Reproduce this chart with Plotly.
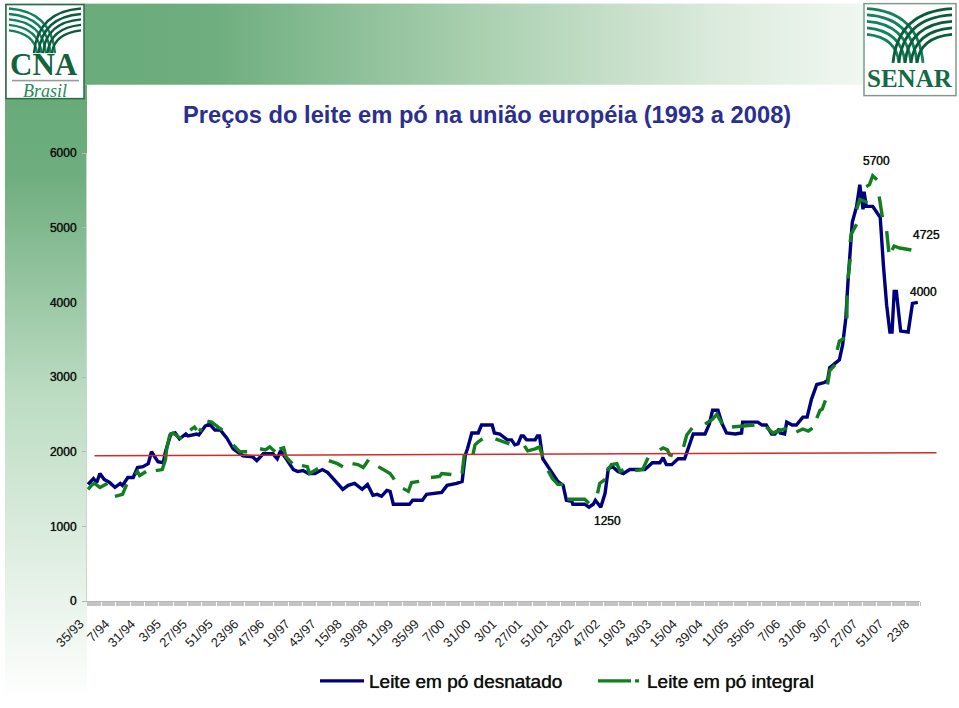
import base64
import plotly.graph_objects as go

W, H = 959, 708
ML, MR, MT, MB = 87, 22, 153, 102
PW, PH = W - ML - MR, H - MT - MB

tick_labels = ["35/93","7/94","31/94","3/95","27/95","51/95","23/96","47/96","19/97","43/97","15/98",
               "39/98","11/99","35/99","7/00","31/00","3/01","27/01","51/01","23/02","47/02","19/03",
               "43/03","15/04","39/04","11/05","35/05","7/06","31/06","3/07","27/07","51/07","23/8"]
tick_weeks = [i * 24 for i in range(len(tick_labels))]

blue_weeks = [1,6,9,12,16,21,26,31,33,38,43,47,52,57,60,66,71,73,78,82,86,89,92,94,102,104,110,114,119,124,
              130,136,145,154,158,164,173,177,180,186,192,196,201,206,212,219,224,233,238,243,249,256,261,266,
              270,274,279,282,285,300,303,312,316,330,335,344,349,352,354,358,364,367,377,379,384,391,395,398,
              401,404,406,409,417,419,421,424,431,438,443,446,451,452,463,467,471,473,478,482,485,489,494,499,
              505,519,526,533,536,539,544,550,556,561,564,575,579,582,587,591,595,603,609,610,624,628,632,637,
              640,644,645,649,651,656,660,666,670,674,679,686,689,691,696,700,703,706,708,711,712,716,719,722,
              723,725,731,736,738,741,744,747,749,751,753,757,764,768,773]
blue_values = [1563,1642,1589,1708,1629,1589,1523,1576,1550,1656,1656,1788,1801,1841,2000,1868,1854,2000,2238,2252,
               2172,2199,2238,2212,2238,2225,2344,2371,2291,2291,2185,2040,1947,1934,1881,1973,1973,1907,2013,1894,
               1762,1735,1748,1709,1709,1762,1722,1576,1497,1550,1576,1497,1563,1417,1430,1404,1483,1470,1298,1298,
               1351,1351,1430,1457,1550,1576,1603,1960,2040,2252,2252,2358,2358,2252,2238,2159,2159,2093,2106,2212,
               2212,2159,2159,2212,2212,1907,1762,1603,1550,1351,1338,1298,1298,1258,1298,1351,1258,1444,1775,1801,
               1735,1709,1762,1762,1854,1854,1920,1828,1828,1907,1907,2132,2238,2238,2371,2556,2556,2371,2252,2238,
               2252,2397,2397,2358,2358,2238,2238,2305,2252,2238,2397,2358,2358,2464,2464,2702,2901,2927,2954,3126,
               3192,3232,3430,3788,4278,4848,5073,5285,5576,5245,5483,5285,5285,5179,5139,4490,3960,3603,3603,4146,
               4146,3616,3603,3987,4000]

green_weeks = [1,5,7,12,19,None,26,31,33,37,None,45,47,49,55,None,64,70,73,74,77,80,85,88,None,96,100,102,None,104,107,None,
               112,116,122,126,None,136,140,142,149,None,161,166,170,175,None,179,183,185,191,None,200,205,207,215,None,
               225,233,238,None,247,252,257,262,None,271,277,282,286,None,294,299,302,309,None,320,328,330,339,None,349,351,None,
               359,361,364,368,None,380,386,393,None,407,410,417,421,424,None,429,433,438,443,None,447,463,467,None,475,477,482,None,
               484,488,493,496,499,None,510,517,522,None,533,536,540,542,545,None,555,558,563,None,575,582,586,591,None,600,621,None,
               632,638,651,None,660,666,671,675,None,679,682,684,687,None,689,691,696,None,698,700,705,None,707,707,None,708,710,None,
               710,711,716,None,716,719,724,726,None,725,728,731,735,None,737,740,None,744,746,None,749,751,756,767]
green_values = [1497,1563,1576,1523,1576,None,1404,1430,1430,1563,None,1695,1735,1682,1735,None,1748,1762,1894,2026,2225,2252,2199,2172,None,
                2291,2331,2291,None,2305,2278,None,2411,2397,2331,2291,None,2093,2040,2000,2000,None,2040,2026,2066,2000,None,
                2040,2053,1934,1841,None,1815,1801,1709,1775,None,1881,1841,1801,None,1841,1828,1788,1894,None,1801,1748,1709,1629,None,
                1510,1470,1589,1603,None,1656,1669,1709,1695,None,1709,1960,None,1960,2093,2132,2172,None,2172,2146,2106,None,
                2079,2013,2040,2066,1934,None,1748,1642,1563,1563,None,1364,1364,1311,None,1444,1576,1629,None,1748,1828,1841,1735,1762,None,
                1748,1762,1920,None,2026,2053,2026,1960,1947,None,2066,2225,2318,None,2371,2437,2503,2371,None,2331,2358,None,
                2331,2252,2318,None,2265,2305,2278,2318,None,2450,2556,2570,2689,None,2901,3086,3165,None,3364,3483,3523,None,3788,4093,None,4318,4583,None,
                4808,4914,5046,None,5245,5377,5351,5338,None,5550,5576,5695,5642,None,5417,5139,None,4954,4675,None,4702,4755,4728,4702]

trend_weeks = [7, 790]
trend_values = [1947, 1987]

FONT = "Liberation Sans, Arial, sans-serif"
SOFT = "0 0 0.7px #111111"


def px(x):
    return (x - ML) / PW


def py(y):
    return 1 - (y - MT) / PH


def fan(x0, y0, dy, ex0, dex, ye, n, color, width):
    out = []
    for i in range(n):
        ys = y0 + i * dy
        ex = ex0 + i * dex
        cx = ex + (x0 - ex) * 0.08
        out.append(f'<path d="M{x0} {ys} Q{cx:.1f} {ys+3} {ex} {ye}" fill="none" stroke="{color}" stroke-width="{width}"/>')
    return "".join(out)


svg = f'''<svg xmlns="http://www.w3.org/2000/svg" width="{W}" height="{H}" viewBox="0 0 {W} {H}">
<defs>
<linearGradient id="t" x1="0" x2="1" y1="0" y2="0">
<stop offset="0" stop-color="#66aa77"/><stop offset="0.22" stop-color="#6fae7f"/>
<stop offset="0.5" stop-color="#aad0b0"/><stop offset="0.75" stop-color="#dcebdd"/><stop offset="1" stop-color="#ffffff"/>
</linearGradient>
<linearGradient id="l" x1="0" x2="0" y1="0" y2="1">
<stop offset="0" stop-color="#66aa77"/><stop offset="0.15" stop-color="#6fae7f"/>
<stop offset="0.5" stop-color="#bcdcc2"/><stop offset="1" stop-color="#ffffff"/>
</linearGradient>
</defs>
<rect x="5" y="2" width="954" height="82" fill="url(#t)"/>
<rect x="5" y="84" width="82" height="624" fill="url(#l)"/>
<rect x="6" y="3" width="78" height="95" fill="#ffffff" stroke="#2a6a48" stroke-width="1.5"/>
{fan(9, 7, 5.5, 55, -4.5, 52, 5, "#12825c", 2.4)}
{fan(81, 7, 5.5, 34, 4.5, 52, 5, "#0b5c3c", 2.4)}
<rect x="12" y="79" width="67" height="1.6" fill="#9a9a9a"/>
<rect x="864" y="2" width="92" height="93" fill="#ffffff" stroke="#7f9a8a" stroke-width="1.5"/>
{fan(867, 7, 6.5, 923, -6, 62, 5, "#12825c", 2.8)}
{fan(952, 7, 6.5, 893, 6, 62, 5, "#0b5c3c", 2.8)}
</svg>'''
src = "data:image/svg+xml;base64," + base64.b64encode(svg.encode()).decode()

fig = go.Figure()
fig.add_trace(go.Scatter(x=trend_weeks, y=trend_values, mode="lines", showlegend=False, xaxis="x2", yaxis="y",
                         line=dict(color="#d42a2a", width=1.5), hoverinfo="skip"))
fig.add_trace(go.Scatter(x=blue_weeks, y=blue_values, mode="lines", name="Leite em pó desnatado", cliponaxis=False,
                         line=dict(color="#00007f", width=3.4)))
fig.add_trace(go.Scatter(x=green_weeks, y=green_values, mode="lines", showlegend=False, cliponaxis=False,
                         connectgaps=False, line=dict(color="#127f1e", width=3.4)))
fig.add_trace(go.Scatter(x=[None], y=[None], mode="lines", name="Leite em pó integral",
                         line=dict(color="#127f1e", width=3.4, dash="33px,4px,4px")))

fig.update_layout(
    width=W, height=H, margin=dict(l=ML, r=MR, t=MT, b=MB), paper_bgcolor="white", plot_bgcolor="rgba(0,0,0,0)",
    font=dict(family=FONT, size=12, color="#111111"),
    xaxis=dict(domain=[0, px(920)], range=[0, 775], tickmode="array", tickvals=tick_weeks, ticktext=tick_labels, tickangle=-45,
               ticks="", showgrid=False, zeroline=False, showline=True, linecolor="#b5b5b5", linewidth=1,
               tickfont=dict(size=13, color="#222222"), ticklabelstandoff=9, ticklabelshift=-7,
               minor=dict(dtick=1, tick0=0, ticks="outside", ticklen=4, tickcolor="#c4c4c4", tickwidth=1, showgrid=False)),
    xaxis2=dict(domain=[0, 1], range=[0, 790.5], visible=False, anchor="y"),
    yaxis=dict(range=[0, 6000], tickmode="array", tickvals=[0,1000,2000,3000,4000,5000,6000],
               ticks="outside", ticklen=4, tickcolor="#b5b5b5", showgrid=False, zeroline=False, ticklabelstandoff=3,
               showline=True, linecolor="#c8d8cc", tickfont=dict(size=12, color="#111111", shadow=SOFT)),
    legend=dict(orientation="h", xref="container", yref="container", x=315/W, y=1-681/H, xanchor="left", yanchor="middle",
                itemwidth=44, entrywidth=219, entrywidthmode="pixels",
                font=dict(size=19, color="#111111", shadow=SOFT), bgcolor="rgba(0,0,0,0)", traceorder="normal"),
    images=[dict(source=src, xref="paper", yref="paper", x=px(0), y=py(0), sizex=W/PW, sizey=H/PH,
                 xanchor="left", yanchor="top", sizing="stretch", layer="below")],
    annotations=[
        dict(text="<b>Preços do leite em pó na união européia (1993 a 2008)</b>", x=px(487), y=py(115), font=dict(size=23.7, color="#2b2f8f")),
        dict(text="5700", x=px(876), y=py(161), font=dict(shadow=SOFT)),
        dict(text="4725", x=px(926), y=py(236), font=dict(shadow=SOFT)),
        dict(text="4000", x=px(923), y=py(294), font=dict(shadow=SOFT)),
        dict(text="1250", x=px(607), y=py(525), font=dict(shadow=SOFT)),
        dict(text="<b>CNA</b>", x=px(44), y=py(64), font=dict(family="Liberation Serif", size=31, color="#14633f")),
        dict(text="<i>Brasil</i>", x=px(45), y=py(90), font=dict(family="Liberation Serif", size=18, color="#1f8a5a")),
        dict(text="<b>SENAR</b>", x=px(910), y=py(78), font=dict(family="Liberation Serif", size=25, color="#146a45")),
    ],
)
for a in fig.layout.annotations:
    a.update(xref="paper", yref="paper", showarrow=False, xanchor="center", yanchor="middle")

fig.write_html("out.html", config={"displayModeBar": False},
               post_script="document.body.style.margin='0';document.body.style.overflow='hidden';")
